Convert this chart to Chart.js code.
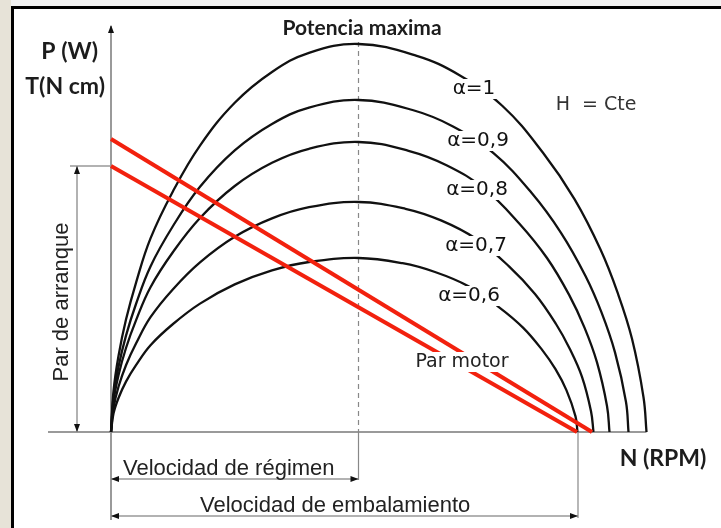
<!DOCTYPE html>
<html>
<head>
<meta charset="utf-8">
<script src="https://cdn.jsdelivr.net/npm/chart.js@4"></script>
<style>
  body { margin: 0; background: #fff; }
  #wrap { width: 721px; height: 528px; }
</style>
</head>
<body>
<div id="wrap"><canvas id="chart" width="721" height="528"></canvas></div>
<script>
// Power curves P(N) for each alpha, [N, P] in chart units
const alpha10 = [[0,0],[0.5,10.2],[1.5,19.0],[3,28.1],[5,37.3],[7.9,48.4],[12.4,60.2],[17.8,71.6],[24.75,82.3],[32.2,90.0],[39.6,94.8],[49.5,97],
  [61,94.1],[69.7,89.2],[78.3,81.5],[86.4,69.8],[92.7,58.2],[97.9,45.6],[101.3,34.9],[104.2,23.3],[106.5,8.7],[107.1,0]];
const alpha09 = [[0,0],[0.5,8.7],[1.5,16.3],[3,24.1],[5,32.0],[7.9,41.4],[12.4,51.5],[17.8,61.3],[24.75,70.4],[32.2,77.0],[39.6,81.1],[49.5,83],
  [60.3,80.5],[68.4,76.4],[76.5,69.7],[84.1,59.8],[90,49.8],[94.9,39.0],[98.1,29.9],[100.8,19.9],[103,7.5],[103.5,0]];
const alpha08 = [[0,0],[0.5,7.6],[1.5,14.2],[3,21.0],[5,27.9],[7.9,36.2],[12.4,45.0],[17.8,53.5],[24.75,61.5],[32.2,67.3],[39.6,70.8],[49.5,72.5],
  [59.5,70.3],[67.1,66.7],[74.6,60.9],[81.6,52.2],[87.2,43.5],[91.7,34.1],[94.7,26.1],[97.2,17.4],[99.2,6.5],[99.7,0]];
const alpha07 = [[0,0],[0.5,6.0],[1.5,11.3],[3,16.7],[5,22.1],[7.9,28.7],[12.4,35.7],[17.8,42.4],[24.75,48.8],[32.2,53.4],[39.6,56.2],[49.5,57.5],
  [58.9,55.8],[66,52.9],[73,48.3],[79.6,41.4],[84.8,34.5],[89,27.0],[91.8,20.7],[94.2,13.8],[96,5.2],[96.5,0]];
const alpha06 = [[0,0],[0.5,4.6],[1.5,8.5],[3,12.6],[5,16.7],[7.9,21.7],[12.4,27.0],[17.8,32.1],[24.75,36.9],[32.2,40.4],[39.6,42.5],[49.5,43.5],
  [58.3,42.2],[64.8,40.0],[71.4,36.5],[77.5,31.3],[82.4,26.1],[86.3,20.4],[88.9,15.7],[91.1,10.4],[92.9,3.9],[93.3,0]];

// Torque lines (par motor)
const torqueHigh = [[0,73.25],[96.2,0]];
const torqueLow = [[0,66.5],[93.2,0]];

const alphaLabels = ['\u03B1=1','\u03B1=0,9','\u03B1=0,8','\u03B1=0,7','\u03B1=0,6'];
const nRegimen = 49.5;
const nEmbalamiento = 93.4;

const toPts = arr => arr.map(p => ({x: p[0], y: p[1]}));

const curve = (d, i) => ({
    label: alphaLabels[i],
    data: toPts(d),
    showLine: true,
    borderColor: '#111',
    borderWidth: 2.3,
    pointRadius: 0,
    tension: 0.4,
    order: 2,
    clip: false
});
const redLine = d => ({
    data: toPts(d),
    showLine: true,
    borderColor: '#f2210e',
    borderWidth: 4,
    pointRadius: 0,
    order: 1,
    clip: false
});

const arrowHead = (ctx, x, y, dir) => {
    // dir: 'up','down','left','right'
    ctx.beginPath();
    const l = 8, w = 3;
    if (dir === 'up') { ctx.moveTo(x, y); ctx.lineTo(x - w, y + l); ctx.lineTo(x + w, y + l); }
    if (dir === 'down') { ctx.moveTo(x, y); ctx.lineTo(x - w, y - l); ctx.lineTo(x + w, y - l); }
    if (dir === 'left') { ctx.moveTo(x, y); ctx.lineTo(x + l, y - w); ctx.lineTo(x + l, y + w); }
    if (dir === 'right') { ctx.moveTo(x, y); ctx.lineTo(x - l, y - w); ctx.lineTo(x - l, y + w); }
    ctx.closePath();
    ctx.fillStyle = '#111';
    ctx.fill();
};

const diagramPlugin = {
    id: 'diagram',
    beforeDatasetsDraw(chart) {
        const ctx = chart.ctx;
        const X = v => chart.scales.x.getPixelForValue(v);
        const Y = v => chart.scales.y.getPixelForValue(v);
        ctx.save();
        // outside of the frame
        ctx.fillStyle = '#e7e3d8';
        ctx.fillRect(0, 0, 11, 528);
        ctx.fillStyle = '#f3f3f3';
        ctx.fillRect(11, 0, 710, 6);
        // frame
        ctx.fillStyle = '#000';
        ctx.fillRect(11, 6, 3, 522);
        ctx.fillRect(11, 6, 710, 3);

        ctx.strokeStyle = '#9a9a9a';
        ctx.lineWidth = 2;
        // x axis
        ctx.beginPath();
        ctx.moveTo(X(-12.6), Y(0)); ctx.lineTo(X(107.1), Y(0));
        ctx.stroke();
        // y axis (extends below to the dimension lines)
        ctx.beginPath();
        ctx.moveTo(X(0), Y(101.5)); ctx.lineTo(X(0), Y(-22));
        ctx.stroke();
        arrowHead(ctx, X(0), Y(101.75), 'up');

        // dashed line at max power
        ctx.lineWidth = 1.2;
        ctx.strokeStyle = '#888';
        ctx.setLineDash([5, 4]);
        ctx.beginPath();
        ctx.moveTo(X(nRegimen), Y(97.5)); ctx.lineTo(X(nRegimen), Y(0));
        ctx.stroke();
        ctx.setLineDash([]);
        ctx.beginPath();
        ctx.moveTo(X(nRegimen), Y(0)); ctx.lineTo(X(nRegimen), Y(-12));
        ctx.stroke();
        // embalamiento extension line
        ctx.beginPath();
        ctx.moveTo(X(nEmbalamiento), Y(0)); ctx.lineTo(X(nEmbalamiento), Y(-21.5));
        ctx.stroke();

        // dimension arrows under the axis
        ctx.strokeStyle = '#999';
        ctx.lineWidth = 1.5;
        ctx.beginPath();
        ctx.moveTo(X(0), Y(-11.75)); ctx.lineTo(X(nRegimen), Y(-11.75));
        ctx.moveTo(X(0), Y(-21)); ctx.lineTo(X(nEmbalamiento), Y(-21));
        ctx.stroke();
        arrowHead(ctx, X(0), Y(-11.75), 'left');
        arrowHead(ctx, X(nRegimen), Y(-11.75), 'right');
        arrowHead(ctx, X(0), Y(-21), 'left');
        arrowHead(ctx, X(nEmbalamiento), Y(-21), 'right');

        // par de arranque dimension
        ctx.beginPath();
        ctx.moveTo(X(-8.2), Y(66.5)); ctx.lineTo(X(0), Y(66.5));
        ctx.moveTo(X(-6.8), Y(66.5)); ctx.lineTo(X(-6.8), Y(0));
        ctx.stroke();
        arrowHead(ctx, X(-6.8), Y(66.5), 'up');
        arrowHead(ctx, X(-6.8), Y(0), 'down');
        ctx.restore();
    },
    afterDatasetsDraw(chart) {
        const ctx = chart.ctx;
        const X = v => chart.scales.x.getPixelForValue(v);
        const Y = v => chart.scales.y.getPixelForValue(v);
        ctx.save();
        const boxed = (txt, x, y, font, color) => {
            ctx.font = font;
            ctx.textAlign = 'center';
            ctx.textBaseline = 'middle';
            const w = ctx.measureText(txt).width;
            ctx.fillStyle = '#fff';
            ctx.fillRect(x - w / 2 - 3, y - 10, w + 6, 20);
            ctx.fillStyle = color;
            ctx.fillText(txt, x, y);
        };
        const labelPos = [[72.6,85.75],[73.4,72.75],[73.2,60.5],[73.0,46.5],[71.6,34]];
        alphaLabels.forEach((t, i) => boxed(t, X(labelPos[i][0]), Y(labelPos[i][1]), '20px "DejaVu Sans"', '#111'));
        boxed('Par motor', X(70.2), Y(17.5), '19px "DejaVu Sans"', '#222');

        ctx.fillStyle = '#333';
        ctx.font = '19px "DejaVu Sans"';
        ctx.textAlign = 'center';
        ctx.textBaseline = 'middle';
        ctx.fillText('H  = Cte', X(97), Y(81.75));

        // bold axis titles
        ctx.fillStyle = '#1c1c1c';
        ctx.font = 'bold 21px Lato';
        ctx.fillText('Potencia maxima', X(50.2), Y(101));
        ctx.font = 'bold 23px Lato';
        ctx.textAlign = 'right';
        ctx.fillText('P (W)', X(-2.6), Y(95));
        ctx.fillText('T(N cm)', X(-1.2), Y(86.25));
        ctx.textAlign = 'center';
        ctx.fillText('N (RPM)', X(110.4), Y(-6.75));

        // dimension texts
        ctx.fillStyle = '#222';
        ctx.font = '22px "Liberation Sans"';
        ctx.textAlign = 'left';
        ctx.textBaseline = 'alphabetic';
        ctx.fillText('Velocidad de r\u00E9gimen', X(2.4), Y(-10.75));
        ctx.fillText('Velocidad de embalamiento', X(17.8), Y(-20));

        ctx.translate(X(-9.9), Y(32.5));
        ctx.rotate(-Math.PI / 2);
        ctx.textAlign = 'center';
        ctx.textBaseline = 'middle';
        ctx.fillText('Par de arranque', 0, 0);
        ctx.restore();
    }
};

new Chart(document.getElementById('chart'), {
    type: 'scatter',
    data: {
        datasets: [
            redLine(torqueHigh),
            redLine(torqueLow),
            curve(alpha10, 0),
            curve(alpha09, 1),
            curve(alpha08, 2),
            curve(alpha07, 3),
            curve(alpha06, 4)
        ]
    },
    options: {
        responsive: false,
        animation: false,
        layout: { padding: { left: 111, right: 60, top: 32, bottom: 96 } },
        scales: {
            x: { type: 'linear', min: 0, max: 110, display: false },
            y: { type: 'linear', min: 0, max: 100, display: false }
        },
        plugins: { legend: { display: false }, tooltip: { enabled: false } }
    },
    plugins: [diagramPlugin]
});
</script>
</body>
</html>
